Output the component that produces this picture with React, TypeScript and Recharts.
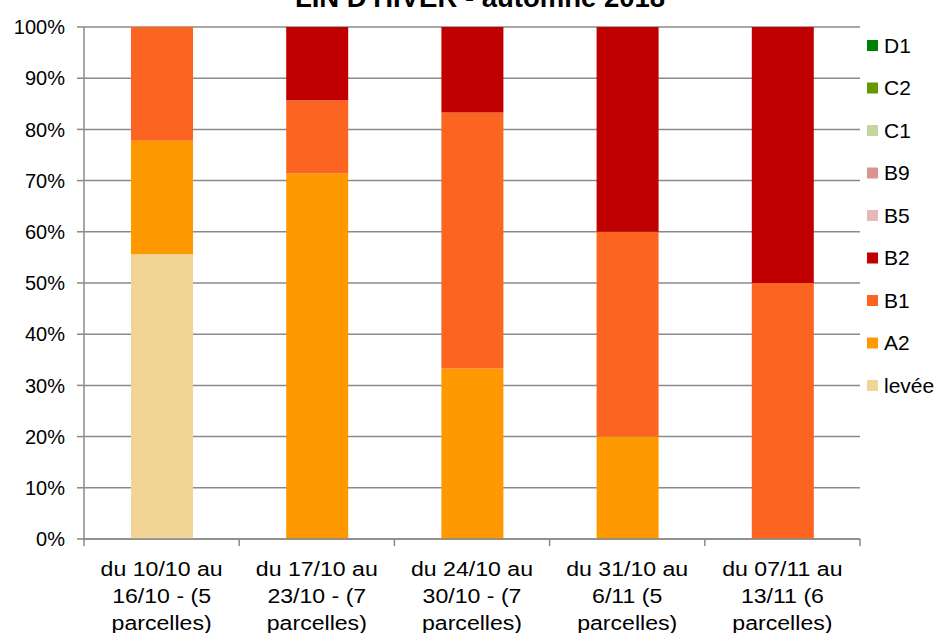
import React from "react";
import { BarChart, Bar, XAxis, YAxis, CartesianGrid } from "recharts";

const title = "LIN D'HIVER - automne 2018";
const categories = [
  ["du 10/10 au", "16/10 - (5", "parcelles)"],
  ["du 17/10 au", "23/10 - (7", "parcelles)"],
  ["du 24/10 au", "30/10 - (7", "parcelles)"],
  ["du 31/10 au", "6/11 (5", "parcelles)"],
  ["du 07/11 au", "13/11 (6", "parcelles)"],
];
const leveeVals = [55.6, 0, 0, 0, 0];
const a2Vals = [22.2, 71.4, 33.3, 20, 0];
const b1Vals = [22.2, 14.3, 50, 40, 50];
const b2Vals = [0, 14.3, 16.7, 40, 50];
const b5Vals = [0, 0, 0, 0, 0];
const b9Vals = [0, 0, 0, 0, 0];
const c1Vals = [0, 0, 0, 0, 0];
const c2Vals = [0, 0, 0, 0, 0];
const d1Vals = [0, 0, 0, 0, 0];
const yTicks = [0, 10, 20, 30, 40, 50, 60, 70, 80, 90, 100];

// bottom to top stacking order
const series = [
  { key: "levée", values: leveeVals, color: "#F2D497" },
  { key: "A2", values: a2Vals, color: "#FF9900" },
  { key: "B1", values: b1Vals, color: "#FB6421" },
  { key: "B2", values: b2Vals, color: "#C00000" },
  { key: "B5", values: b5Vals, color: "#E6B9B8" },
  { key: "B9", values: b9Vals, color: "#D99594" },
  { key: "C1", values: c1Vals, color: "#C4D79B" },
  { key: "C2", values: c2Vals, color: "#669900" },
  { key: "D1", values: d1Vals, color: "#008000" },
];

const data = categories.map((lines, i) => {
  const row: any = { name: lines.join(" "), idx: i };
  series.forEach((s) => (row[s.key] = s.values[i]));
  return row;
});

const AXIS = "#8a8a8a";
const FONT = "'Liberation Sans', Arial, sans-serif";

const XTick = (props: any) => {
  const { x, y, index, width } = props;
  const n = categories.length;
  const half = (typeof width === "number" && width > 0 ? width : 776) / n / 2;
  const lines = categories[index] || [];
  return (
    <g>
      <line x1={x - half} x2={x - half} y1={y} y2={y + 7} stroke={AXIS} strokeWidth={1.5} />
      {index === n - 1 && (
        <line x1={x + half} x2={x + half} y1={y} y2={y + 7} stroke={AXIS} strokeWidth={1.5} />
      )}
      <g transform={`translate(${x},0) scale(1.1,1)`}>
        {lines.map((l, i) => (
          <text
            key={i}
            x={0}
            y={y + 37 + i * 27}
            textAnchor="middle"
            fontFamily={FONT}
            fontSize={21}
            fill="#000"
          >
            {l}
          </text>
        ))}
      </g>
    </g>
  );
};

const legendItems = [...series].reverse();

export default function App() {
  return (
    <div style={{ position: "absolute", left: 0, top: 0, width: 941, height: 633, background: "#fff", overflow: "hidden" }}>
      <BarChart
        width={941}
        height={633}
        data={data}
        margin={{ top: 27, right: 81, bottom: 0, left: 0 }}
        barCategoryGap={0}
      >
        <CartesianGrid vertical={false} stroke={AXIS} strokeWidth={1.5} />
        <XAxis
          dataKey="name"
          height={94}
          axisLine={{ stroke: AXIS, strokeWidth: 1.5 }}
          tickLine={false}
          tickSize={0}
          tickMargin={0}
          interval={0}
          tick={<XTick />}
        />
        <YAxis
          domain={[0, 100]}
          ticks={yTicks}
          width={84}
          interval={0}
          tickFormatter={(v: number) => `${v}%`}
          axisLine={{ stroke: AXIS, strokeWidth: 1.5 }}
          tickLine={{ stroke: AXIS, strokeWidth: 1.5 }}
          tickSize={7}
          tickMargin={12}
          tick={{ fill: "#000", fontSize: 20, fontFamily: FONT }}
        />
        {series.map((s) => (
          <Bar
            key={s.key}
            dataKey={s.key}
            stackId="a"
            fill={s.color}
            barSize={62}
            isAnimationActive={false}
          />
        ))}
      </BarChart>
      <svg
        width={941}
        height={633}
        style={{ position: "absolute", left: 0, top: 0, pointerEvents: "none" }}
      >
        <text
          x={480}
          y={7}
          textAnchor="middle"
          fontFamily={FONT}
          fontWeight="bold"
          fontSize={27.5}
          fill="#000"
        >
          {title}
        </text>
        {legendItems.map((s, i) => {
          const cy = 45 + i * 42.5;
          return (
            <g key={s.key}>
              <rect x={867} y={cy - 5} width={11} height={11} fill={s.color} />
              <text x={884} y={cy + 7.5} fontFamily={FONT} fontSize={21} fill="#000">
                {s.key}
              </text>
            </g>
          );
        })}
      </svg>
    </div>
  );
}
